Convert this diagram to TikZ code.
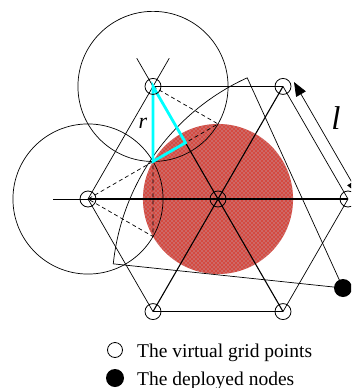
\documentclass[tikz,border=0pt]{standalone}
\usepackage{fontspec}
\setmainfont{Liberation Serif}
\usetikzlibrary{calc,arrows.meta}
\definecolor{redfill}{RGB}{212,74,64}
\definecolor{dotc}{RGB}{190,205,225}
\definecolor{cyanc}{RGB}{0,255,255}
\begin{document}
\begin{tikzpicture}[x=1pt,y=1pt,
  thinline/.style={draw=black,line width=0.7pt},
  boldline/.style={draw=black,line width=1.1pt},
  dashline/.style={draw=black,line width=0.7pt,dash pattern=on 4pt off 3pt},
  cyanline/.style={draw=cyanc,line width=2.8pt,line join=miter},
  gp/.style={circle,draw=black,line width=0.8pt,minimum size=16pt,inner sep=0pt},
  dn/.style={circle,fill=black,minimum size=18pt,inner sep=0pt},
  legtext/.style={font=\fontsize{19.5}{23}\selectfont,anchor=base west,inner sep=0pt},
  dimtip/.tip={Triangle[length=14pt,width=11pt]}
]
\useasboundingbox (0,0) rectangle (351,-388);
\clip (0,0) rectangle (351,-388);
\def\rr{75.06}
\coordinate (C) at (218,-199);
\coordinate (TR) at ($(C)+(60:130)$);
\coordinate (TL) at ($(C)+(120:130)$);
\coordinate (L) at ($(C)+(180:130)$);
\coordinate (BL) at ($(C)+(240:130)$);
\coordinate (BR) at ($(C)+(300:130)$);
\coordinate (R) at ($(C)+(0:130)$);
\coordinate (Cup) at ($(C)+(90:\rr)$);
\coordinate (CL) at ($(C)+(150:\rr)$);
\coordinate (CLL) at ($(C)+(210:\rr)$);
\coordinate (M) at ($(C)!0.5!(TL)$);
\coordinate (D) at (343,-288);
\coordinate (Lext) at (53,-199);
\coordinate (TLa) at ($(L)!1.25!(TL)$);
\coordinate (TLb) at ($(C)!1.25!(TL)$);
\coordinate (dimA) at ($(TR)+(11,4.4)$);
\coordinate (dimB) at ($(R)+(11,4.4)$);
% red disk with dots
\fill[redfill] (C) circle (\rr);
\begin{scope}
  \clip (C) circle (\rr);
  \fill[dotc] \foreach \i in {0,...,38} { \foreach \j in {0,...,38} {
      (142+4*\i,-123-4*\j) circle (0.65) (144+4*\i,-125-4*\j) circle (0.65) } };
\end{scope}
% circles of radius r
\draw[thinline] (TL) circle (\rr);
\draw[thinline] (L) circle (\rr);
% sector of the deployed node
\draw[thinline] (D) -- ($(D)+(174:231)$) arc[start angle=174,end angle=114.5,radius=231] -- cycle;
% hexagon
\draw[thinline] (TL) -- (TR) -- (R) -- (BR) -- (BL) -- (L) -- cycle;
\draw[thinline] (TL) -- (TLa);
\draw[thinline] (TL) -- (TLb);
% lines through the centre
\draw[thinline] (Lext) -- (L);
\draw[boldline] (L) -- (R);
\draw[boldline] (TL) -- (BR);
\draw[boldline] (TR) -- (BL);
% dashed cell boundaries
\draw[dashline] (TL) -- (Cup) -- (CL) -- (CLL) -- (L) -- (CL);
% dimension arrow
\draw[line width=0.7pt,dimtip-dimtip] (dimA) -- (dimB);
% cyan triangle
\draw[cyanline] (TL) -- (CL) -- (M) -- cycle;
% grid points
\foreach \p in {TL,TR,R,BR,BL,L,C} \node[gp] (g\p) at (\p) {};
\node[dn] (dnode) at (D) {};
% labels
\node[font=\fontsize{22}{26}\selectfont,inner sep=0pt] (rlab) at (143,-123) {\textit{r}};
\node[font=\fontsize{33}{38}\selectfont,inner sep=0pt] (llab) at (336,-118) {\textit{l}};
% legend
\node[circle,draw=black,fill=white,line width=0.8pt,minimum size=15pt,inner sep=0pt] (leg1) at (115,-350) {};
\node[circle,fill=black,minimum size=18pt,inner sep=0pt] (leg2) at (115,-378) {};
\node[legtext] (t1) at (137,-357) {The virtual grid points};
\node[legtext] (t2) at (137,-385) {The deployed nodes};
\end{tikzpicture}
\end{document}
